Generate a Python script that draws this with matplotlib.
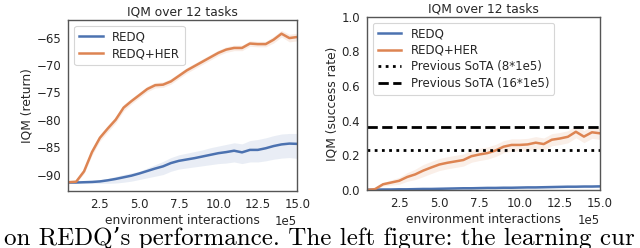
import numpy as np
import matplotlib
matplotlib.use("Agg")
import matplotlib.pyplot as plt
from matplotlib.ticker import MultipleLocator

# ---------------------------------------------------------------- data
# environment interactions, in units of 1e5
steps = [0.5, 1.0, 1.5, 2.0, 2.5, 3.0, 3.5, 4.0, 4.5, 5.0,
         5.5, 6.0, 6.5, 7.0, 7.5, 8.0, 8.5, 9.0, 9.5, 10.0,
         10.5, 11.0, 11.5, 12.0, 12.5, 13.0, 13.5, 14.0, 14.5, 15.0]

# left panel: IQM return
ret_redq = [-91.45, -91.45, -91.4, -91.35, -91.25, -91.05, -90.8, -90.5, -90.2, -89.8,
            -89.35, -88.9, -88.5, -87.9, -87.5, -87.25, -87.0, -86.7, -86.4, -86.1,
            -85.9, -85.65, -85.95, -85.5, -85.5, -85.2, -84.8, -84.5, -84.35, -84.4]
ret_redq_lo = [-91.45, -91.5, -91.55, -91.6, -91.6, -91.6, -91.55, -91.4, -91.2, -90.9,
               -90.6, -90.3, -90.0, -89.4, -89.0, -88.8, -88.6, -88.4, -88.2, -88.0,
               -87.9, -87.7, -88.0, -87.7, -87.7, -87.5, -87.2, -87.0, -86.9, -87.05]
ret_redq_hi = [-91.45, -91.4, -91.25, -91.1, -90.95, -90.7, -90.35, -90.0, -89.7, -89.4,
               -88.8, -88.2, -87.6, -86.9, -86.4, -86.1, -85.8, -85.5, -85.1, -84.8,
               -84.5, -84.2, -84.4, -83.8, -83.6, -83.3, -82.9, -82.6, -82.5, -82.5]
ret_her = [-91.4, -91.3, -89.4, -85.9, -83.3, -81.6, -80.0, -77.8, -76.6, -75.5,
           -74.4, -73.7, -73.6, -73.0, -72.0, -71.0, -70.2, -69.4, -68.6, -67.8,
           -67.2, -66.9, -66.9, -66.1, -66.2, -66.2, -65.4, -64.3, -65.1, -64.9]
ret_her_err = [0.1, 0.2, 0.4, 0.6, 0.6, 0.6, 0.6, 0.6, 0.5, 0.5,
               0.5, 0.5, 0.5, 0.5, 0.5, 0.5, 0.5, 0.5, 0.5, 0.5,
               0.5, 0.5, 0.5, 0.5, 0.5, 0.5, 0.6, 0.6, 0.7, 0.7]

# right panel: IQM success rate
succ_redq = [0.002, 0.002, 0.003, 0.003, 0.004, 0.004, 0.005, 0.006, 0.006, 0.007,
             0.008, 0.009, 0.010, 0.010, 0.011, 0.012, 0.012, 0.013, 0.013, 0.014,
             0.015, 0.015, 0.016, 0.017, 0.018, 0.019, 0.019, 0.020, 0.020, 0.021]
succ_redq_err = [0.001, 0.001, 0.002, 0.002, 0.002, 0.003, 0.003, 0.003, 0.003, 0.004,
                 0.004, 0.004, 0.005, 0.005, 0.005, 0.005, 0.005, 0.005, 0.006, 0.006,
                 0.006, 0.006, 0.006, 0.006, 0.006, 0.006, 0.006, 0.006, 0.006, 0.006]
succ_her = [0.0, 0.005, 0.033, 0.043, 0.053, 0.075, 0.09, 0.112, 0.13, 0.147,
            0.157, 0.165, 0.173, 0.195, 0.205, 0.213, 0.228, 0.25, 0.26, 0.26,
            0.263, 0.273, 0.265, 0.29, 0.297, 0.307, 0.336, 0.308, 0.333, 0.327]
succ_her_err = [0.002, 0.005, 0.01, 0.015, 0.02, 0.025, 0.03, 0.035, 0.035, 0.035,
                0.035, 0.035, 0.035, 0.035, 0.035, 0.035, 0.035, 0.035, 0.035, 0.035,
                0.035, 0.035, 0.035, 0.035, 0.035, 0.035, 0.035, 0.035, 0.035, 0.035]
sota_8 = 0.23
sota_16 = 0.365

title = "IQM over 12 tasks"
caption = "on REDQ\u2019s performance. The left figure: the learning cur"

# ---------------------------------------------------------------- style
BLUE = "#4c72b0"
ORANGE = "#dd8452"
INK = "#262626"
SPINE = "#555555"
FS = 8.8

plt.rcParams.update({
    "font.family": "DejaVu Sans",
    "font.size": FS,
    "text.color": INK,
    "axes.labelcolor": INK,
    "xtick.color": INK,
    "ytick.color": INK,
    "axes.edgecolor": SPINE,
    "axes.linewidth": 1.0,
})

x = np.array(steps) * 1e5

fig = plt.figure(figsize=(6.4, 2.48), dpi=100)
ax1 = fig.add_axes([0.1067, 0.2298, 0.3578, 0.6896])
ax2 = fig.add_axes([0.5734, 0.2339, 0.3641, 0.6988])


def style(ax):
    ax.tick_params(length=0, pad=5, labelsize=8.5)
    ax.set_xlim(x[0], x[-1])
    ax.xaxis.set_major_locator(MultipleLocator(2.5e5))
    ax.ticklabel_format(axis="x", style="sci", scilimits=(5, 5))
    ax.xaxis.get_offset_text().set_fontsize(8.5)
    ax.set_xlabel("environment interactions", fontsize=FS, labelpad=2)
    ax.set_title(title, fontsize=FS, pad=3)


def legend(ax):
    lg = ax.legend(loc="upper left", fontsize=8.5, frameon=True, framealpha=0.8,
                   edgecolor="#cccccc", handlelength=2.0, borderpad=0.4,
                   labelspacing=0.3)
    lg.get_frame().set_linewidth(0.8)


# left panel
ax1.fill_between(x, ret_redq_lo, ret_redq_hi, color=BLUE, alpha=0.12, lw=0)
ax1.fill_between(x, np.array(ret_her) - ret_her_err, np.array(ret_her) + ret_her_err,
                 color=ORANGE, alpha=0.15, lw=0)
ax1.plot(x, ret_redq, color=BLUE, lw=1.8, label="REDQ")
ax1.plot(x, ret_her, color=ORANGE, lw=1.8, label="REDQ+HER")
ax1.set_ylim(-93.0, -61.8)
ax1.yaxis.set_major_locator(MultipleLocator(5))
ax1.set_ylabel("IQM (return)", fontsize=FS, labelpad=2)
style(ax1)
legend(ax1)

# right panel
ax2.fill_between(x, np.array(succ_redq) - succ_redq_err, np.array(succ_redq) + succ_redq_err,
                 color=BLUE, alpha=0.12, lw=0)
ax2.fill_between(x, np.array(succ_her) - succ_her_err, np.array(succ_her) + succ_her_err,
                 color=ORANGE, alpha=0.13, lw=0)
ax2.plot(x, succ_redq, color=BLUE, lw=1.8, label="REDQ")
ax2.plot(x, succ_her, color=ORANGE, lw=1.8, label="REDQ+HER")
ax2.axhline(sota_8, color="black", lw=2, ls=(0, (1, 1.6)), label="Previous SoTA (8*1e5)")
ax2.axhline(sota_16, color="black", lw=2, ls=(0, (3.7, 1.6)), label="Previous SoTA (16*1e5)")
ax2.set_ylim(0, 1)
ax2.yaxis.set_major_locator(MultipleLocator(0.2))
ax2.set_ylabel("IQM (success rate)", fontsize=FS, labelpad=2)
style(ax2)
legend(ax2)

# caption fragment, cut by the bottom edge as in the source
fig.text(0.006, 0.012, caption, fontsize=18, family=["cmr10", "DejaVu Serif"],
         va="baseline", ha="left", color="black")

fig.savefig("out.png", dpi=100)
